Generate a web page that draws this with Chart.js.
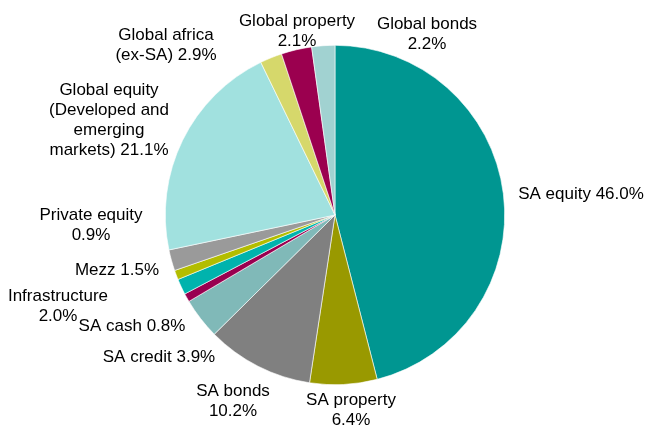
<!DOCTYPE html>
<html>
<head>
<meta charset="utf-8">
<script src="https://cdn.jsdelivr.net/npm/chart.js@4/dist/chart.umd.min.js"></script>
<style>
  html, body { margin: 0; padding: 0; background: #fff; }
  #wrap { width: 646px; height: 428px; }
</style>
</head>
<body>
<div id="wrap"><canvas id="myChart" width="646" height="428"></canvas></div>
<script>
// data, clockwise from 12 o'clock
const categories = ['SA equity', 'SA property', 'SA bonds', 'SA credit', 'SA cash', 'Mezz',
  'Private equity', 'Infrastructure', 'Global equity', 'Global property', 'Global africa', 'Global bonds'];
const shares = [46.0, 6.4, 10.2, 3.9, 0.8, 1.5, 0.9, 2.0, 21.1, 2.1, 2.9, 2.2];
const colours = ['#009691', '#999900', '#808080', '#80b9b8', '#990050', '#00b3ad',
  '#b3bd00', '#9a9a9a', '#a1e1df', '#d6d86b', '#9b004f', '#a1d2d1'];

// label text lines (value is appended from shares)
const labelLines = {
  'SA equity': ['SA equity {v}'],
  'SA property': ['SA property', '{v}'],
  'SA bonds': ['SA bonds', '{v}'],
  'SA credit': ['SA credit {v}'],
  'SA cash': ['SA cash {v}'],
  'Mezz': ['Mezz {v}'],
  'Private equity': ['Private equity', '{v}'],
  'Infrastructure': ['Infrastructure', '{v}'],
  'Global equity': ['Global equity', '(Developed and', 'emerging', 'markets) {v}'],
  'Global property': ['Global property', '{v}'],
  'Global africa': ['Global africa', '(ex-SA) {v}'],
  'Global bonds': ['Global bonds', '{v}']
};
// where each label block sits (centre x, first line y) - layout only
const labelPos = {
  'SA equity': [581, 194],
  'SA property': [351, 400],
  'SA bonds': [233, 391],
  'SA credit': [159, 357],
  'SA cash': [132, 326],
  'Mezz': [117, 270],
  'Private equity': [91, 215],
  'Infrastructure': [58, 296],
  'Global equity': [109, 90],
  'Global property': [297, 21],
  'Global africa': [166, 35],
  'Global bonds': [427, 24]
};

const labelPlugin = {
  id: 'labels',
  afterDraw(chart) {
    const ctx = chart.ctx;
    ctx.save();
    ctx.font = '17px "Liberation Sans", Arial, sans-serif';
    ctx.fillStyle = '#000';
    ctx.textAlign = 'center';
    ctx.textBaseline = 'middle';
    categories.forEach((c, i) => {
      const v = shares[i].toFixed(1) + '%';
      const p = labelPos[c];
      labelLines[c].forEach((line, k) => {
        ctx.fillText(line.replace('{v}', v), p[0], p[1] + k * 20);
      });
    });
    ctx.restore();
  }
};

const config = {
  type: 'pie',
  data: {
    labels: categories,
    datasets: [{
      data: shares,
      backgroundColor: colours,
      borderColor: '#ffffff',
      borderWidth: 0.6
    }]
  },
  options: {
    responsive: false,
    animation: false,
    layout: { padding: { top: 45, bottom: 43, left: 165, right: 141 } },
    plugins: {
      legend: { display: false },
      tooltip: { enabled: false }
    }
  },
  plugins: [labelPlugin]
};

const myChart = new Chart(document.getElementById('myChart'), config);
</script>
</body>
</html>
